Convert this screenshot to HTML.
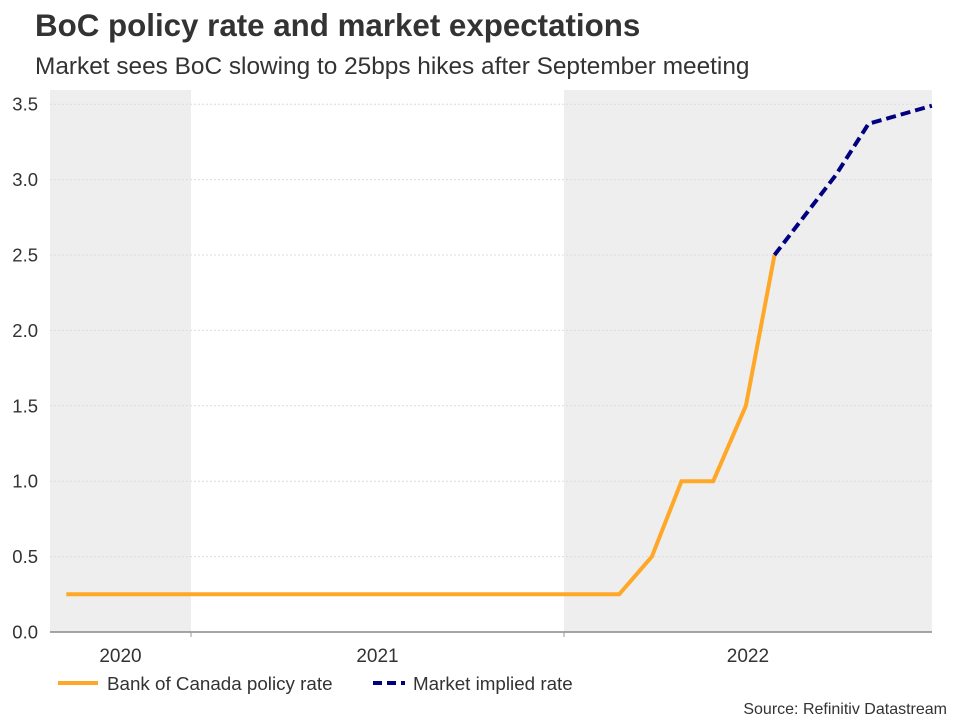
<!DOCTYPE html>
<html><head><meta charset="utf-8"><style>
body{margin:0;background:#fff;font-family:"Liberation Sans",sans-serif;}
</style></head><body>
<svg id="chart" width="960" height="720" xmlns="http://www.w3.org/2000/svg" font-family="Liberation Sans, sans-serif">
<rect width="960" height="720" fill="#fff"/>
<text x="35" y="36" font-size="31.3" font-weight="bold" fill="#333">BoC policy rate and market expectations</text>
<text x="35" y="74" font-size="24.4" fill="#333">Market sees BoC slowing to 25bps hikes after September meeting</text>
<g id="bands"></g><g id="grid"></g><g id="yticks"></g><g id="xticks"></g><g id="series"></g>
<g>
<line x1="58" y1="683" x2="98" y2="683" stroke="#ffa726" stroke-width="4"/>
<text x="107" y="690" font-size="18.8" fill="#333">Bank of Canada policy rate</text>
<line x1="373" y1="683" x2="405" y2="683" stroke="#000080" stroke-width="4" stroke-dasharray="9,5"/>
<text x="413" y="690" font-size="18.8" fill="#333">Market implied rate</text>
</g>
<text x="947" y="714" font-size="16" fill="#333" text-anchor="end">Source: Refinitiv Datastream</text>
</svg>
<script>
const policyDates=["2020-09-01","2020-10-01","2020-11-01","2020-12-01","2021-01-01","2021-02-01","2021-03-01","2021-04-01","2021-05-01","2021-06-01","2021-07-01","2021-08-01","2021-09-01","2021-10-01","2021-11-01","2021-12-01","2022-01-01","2022-02-24","2022-03-28","2022-04-26","2022-05-27","2022-06-28","2022-07-26"];
const policyValues=[0.25,0.25,0.25,0.25,0.25,0.25,0.25,0.25,0.25,0.25,0.25,0.25,0.25,0.25,0.25,0.25,0.25,0.25,0.5,1.0,1.0,1.5,2.5];
const marketDates=["2022-07-26","2022-09-24","2022-10-26","2022-12-27"];
const marketValues=[2.5,3.03,3.37,3.49];
const yTicks=[0,0.5,1.0,1.5,2.0,2.5,3.0,3.5];
const yearLabels=["2020","2021","2022"];
const yearStarts=["2020-08-16","2021-01-01","2022-01-01","2022-12-27"];

const NS="http://www.w3.org/2000/svg";
const L=50,R=932,T=90,B=632;
const t0=Date.UTC(2021,0,1);
function days(s){const p=s.split("-");return (Date.UTC(+p[0],+p[1]-1,+p[2])-t0)/86400000;}
function X(s){return 191+days(s)*1.0219;}
function Y(v){return B-v*150.8;}
function mk(tag,attrs,parent){const e=document.createElementNS(NS,tag);for(const k in attrs)e.setAttribute(k,attrs[k]);parent.appendChild(e);return e;}
const bands=document.getElementById("bands");
for(let i=0;i<yearLabels.length;i++){
  const x1=Math.max(L,X(yearStarts[i])),x2=Math.min(R,X(yearStarts[i+1]));
  if(i!==1){const r=mk("rect",{x:x1,y:T,width:x2-x1,height:B-T,fill:"#eeeeee"},bands);
  
  }
  const t=mk("text",{x:(x1+x2)/2,y:662,"font-size":19,fill:"#333","text-anchor":"middle"},document.getElementById("xticks"));
  t.textContent=yearLabels[i];
  
  
  if(i>0){const tk=mk("line",{x1:x1,y1:B,x2:x1,y2:B+5,stroke:"#999"},document.getElementById("xticks"));
  
  }
}
const grid=document.getElementById("grid");
yTicks.forEach(v=>{
  if(v>0){const g=mk("line",{x1:L,x2:R,y1:Y(v),y2:Y(v),stroke:"#dcdcdc","stroke-dasharray":"2,2","stroke-width":1},grid);
  
  }
  const t=mk("text",{x:38,y:Y(v)+6.5,"font-size":18.5,fill:"#333","text-anchor":"end"},document.getElementById("yticks"));
  t.textContent=v.toFixed(1);
  
  
});
const ax=mk("line",{x1:L,x2:R,y1:B,y2:B,stroke:"#888","stroke-width":1.5},grid);


const ser=document.getElementById("series");
const p1=mk("polyline",{points:policyDates.map((d,i)=>X(d)+","+Y(policyValues[i])).join(" "),fill:"none",stroke:"#ffa726","stroke-width":4,"stroke-linejoin":"miter"},ser);


const p2=mk("polyline",{points:marketDates.map((d,i)=>X(d)+","+Y(marketValues[i])).join(" "),fill:"none",stroke:"#000080","stroke-width":4,"stroke-dasharray":"10,5"},ser);


</script>
</body></html>
